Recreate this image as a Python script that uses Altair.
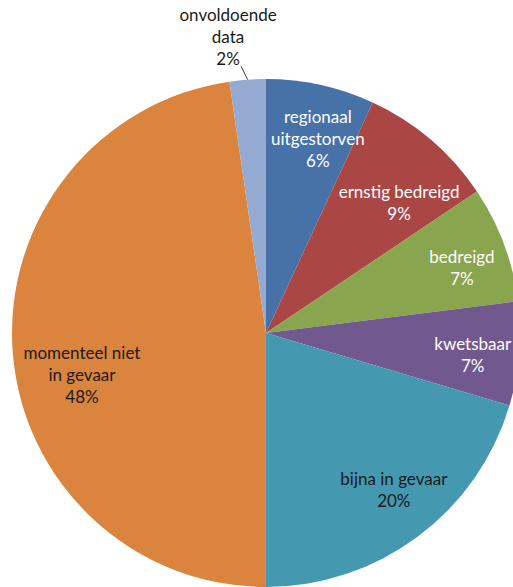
import math
import altair as alt
import pandas as pd

# ---- data ----
categories = ["regionaal uitgestorven", "ernstig bedreigd", "bedreigd", "kwetsbaar",
              "bijna in gevaar", "momenteel niet in gevaar", "onvoldoende data"]
labels = ["regionaal\nuitgestorven\n6%", "ernstig bedreigd\n9%", "bedreigd\n7%", "kwetsbaar\n7%",
          "bijna in gevaar\n20%", "momenteel niet\nin gevaar\n48%", "onvoldoende\ndata\n2%"]
values = [6.9, 8.7, 7.4, 6.6, 20.4, 47.7, 2.3]

# ---- style / layout ----
colors = ["#4672A8", "#AA4643", "#89A54E", "#71588F", "#4499B0", "#DB843D", "#94AAD0"]
text_colors = ["white", "white", "white", "white", "#1a1a1a", "#1a1a1a", "#1a1a1a"]
label_radius = [200, 185, 206, 208, 203, 189, 297]
label_nudge_deg = [2.6, 5.5, 2.5, 1.6, -2.3, -9.0, -3.2]
CX, CY, R = 266, 333, 254
LH = 22

df = pd.DataFrame({"cat": categories, "value": values, "idx": range(len(values))})

total = sum(values)
cum = 0.0
mids = []
for v in values:
    mids.append((cum + v / 2) / total * 2 * math.pi)
    cum += v

lab = pd.DataFrame({
    "label": labels,
    "t": [m + math.radians(n) for m, n in zip(mids, label_nudge_deg)],
    "r": label_radius,
    "tc": text_colors,
    "n": [l.count("\n") + 1 for l in labels],
})

pie = alt.Chart(df).mark_arc(outerRadius=R, x=CX, y=CY).encode(
    theta=alt.Theta("value:Q", stack=True),
    color=alt.Color("cat:N", scale=alt.Scale(domain=categories, range=colors), legend=None),
    order=alt.Order("idx:Q"),
)

text_layers = []
for n in sorted(lab["n"].unique()):
    sub = lab[lab["n"] == n]
    text_layers.append(
        alt.Chart(sub).mark_text(
            x=CX, y=CY, lineBreak="\n", font="Lato", fontSize=17, lineHeight=LH,
            align="center", baseline="middle", dy=-(int(n) - 1) * LH / 2,
        ).encode(
            theta=alt.Theta("t:Q", scale=None, stack=None),
            radius=alt.Radius("r:Q", scale=None),
            text="label:N",
            color=alt.Color("tc:N", scale=None),
        )
    )

# leader line for the small slice, derived from its mid angle
m = mids[-1]
x1 = CX + R * math.sin(m)
y1 = CY - R * math.cos(m)
x2 = CX + 268 * math.sin(m - math.radians(1.2))
y2 = CY - 268 * math.cos(m - math.radians(1.2))
leader = alt.Chart(pd.DataFrame({"a": [0]})).mark_rule(color="#404040", strokeWidth=1).encode(
    x=alt.value(x1), y=alt.value(y1), x2=alt.value(x2), y2=alt.value(y2)
)

chart = alt.layer(pie, leader, *text_layers).properties(
    width=513, height=587, autosize="none", padding=0, background="white"
).configure_view(stroke=None)

chart.save("out.html", embed_options={"renderer": "svg", "actions": False})
